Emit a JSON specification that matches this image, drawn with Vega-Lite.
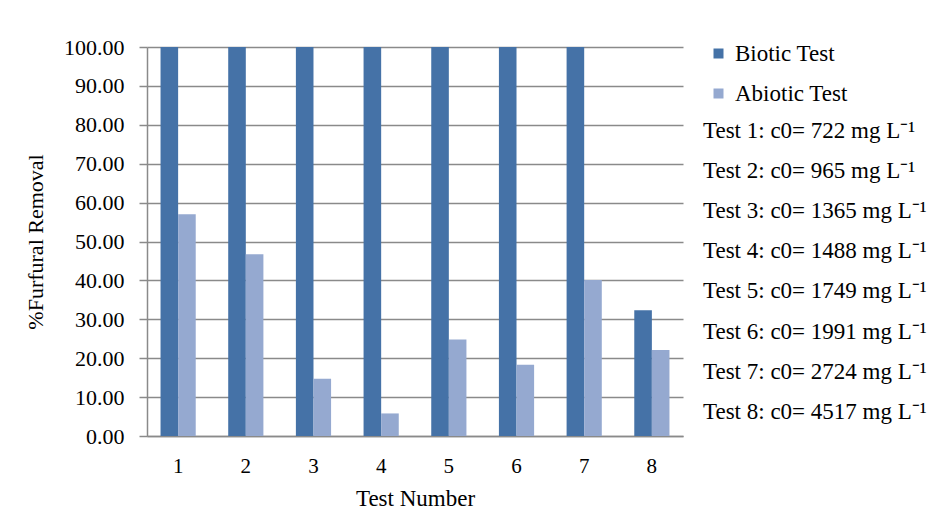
{
  "$schema": "https://vega.github.io/schema/vega-lite/v6.json",
  "autosize": {"type": "none"},
  "width": 536,
  "height": 389,
  "padding": {"left": 147, "top": 47, "right": 256, "bottom": 84},
  "background": "white",
  "config": {
    "font": "Liberation Serif",
    "view": {"stroke": null},
    "axis": {"labelFont": "Liberation Serif", "titleFont": "Liberation Serif", "labelColor": "#000000", "titleColor": "#000000", "titleFontWeight": "normal"},
    "legend": {"labelFont": "Liberation Serif", "labelColor": "#000000"}
  },
  "data": {
    "values": [
      {"test": 1, "type": "Biotic Test", "value": 100, "cond": "Test 1: c0= 722  mg L⁻¹"},
      {"test": 1, "type": "Abiotic Test", "value": 57.0, "cond": "Test 1: c0= 722  mg L⁻¹"},
      {"test": 2, "type": "Biotic Test", "value": 100, "cond": "Test 2: c0= 965  mg L⁻¹"},
      {"test": 2, "type": "Abiotic Test", "value": 46.7, "cond": "Test 2: c0= 965  mg L⁻¹"},
      {"test": 3, "type": "Biotic Test", "value": 100, "cond": "Test 3: c0= 1365 mg L⁻¹"},
      {"test": 3, "type": "Abiotic Test", "value": 14.7, "cond": "Test 3: c0= 1365 mg L⁻¹"},
      {"test": 4, "type": "Biotic Test", "value": 100, "cond": "Test 4: c0= 1488 mg L⁻¹"},
      {"test": 4, "type": "Abiotic Test", "value": 5.8, "cond": "Test 4: c0= 1488 mg L⁻¹"},
      {"test": 5, "type": "Biotic Test", "value": 100, "cond": "Test 5: c0= 1749 mg L⁻¹"},
      {"test": 5, "type": "Abiotic Test", "value": 24.8, "cond": "Test 5: c0= 1749 mg L⁻¹"},
      {"test": 6, "type": "Biotic Test", "value": 100, "cond": "Test 6: c0= 1991 mg L⁻¹"},
      {"test": 6, "type": "Abiotic Test", "value": 18.3, "cond": "Test 6: c0= 1991 mg L⁻¹"},
      {"test": 7, "type": "Biotic Test", "value": 100, "cond": "Test 7: c0= 2724 mg L⁻¹"},
      {"test": 7, "type": "Abiotic Test", "value": 40.1, "cond": "Test 7: c0= 2724 mg L⁻¹"},
      {"test": 8, "type": "Biotic Test", "value": 32.3, "cond": "Test 8: c0= 4517 mg L⁻¹"},
      {"test": 8, "type": "Abiotic Test", "value": 22.1, "cond": "Test 8: c0= 4517 mg L⁻¹"}
    ]
  },
  "encoding": {
    "x": {
      "field": "test", "type": "ordinal", "title": "Test Number",
      "scale": {"paddingInner": 0.48, "paddingOuter": 0.2},
      "axis": {"labelAngle": 0, "labelFontSize": 21, "titleFontSize": 23, "ticks": false, "domainColor": "#8a8a8a", "domainWidth": 1.5, "labelPadding": 19, "titlePadding": 11}
    },
    "y": {
      "field": "value", "type": "quantitative", "title": "%Furfural Removal",
      "scale": {"domain": [0, 100], "nice": false},
      "axis": {"values": [0, 10, 20, 30, 40, 50, 60, 70, 80, 90, 100], "format": ".2f", "labelFontSize": 22, "titleFontSize": 22, "tickSize": 8, "tickColor": "#8a8a8a", "tickWidth": 1.5, "domainColor": "#8a8a8a", "domainWidth": 1.5, "gridColor": "#8a8a8a", "gridWidth": 1.5, "labelPadding": 15, "titlePadding": 16}
    }
  },
  "layer": [
    {
      "mark": {"type": "bar"},
      "encoding": {
        "xOffset": {"field": "type", "type": "nominal", "sort": ["Biotic Test", "Abiotic Test"], "scale": {"domain": ["Biotic Test", "Abiotic Test"]}},
        "color": {
          "field": "type", "type": "nominal",
          "scale": {"domain": ["Biotic Test", "Abiotic Test"], "range": ["#4572a7", "#95a9d0"]},
          "legend": {"title": null, "orient": "none", "legendX": 560, "legendY": -5, "symbolType": "square", "symbolSize": 100, "symbolStrokeWidth": 0, "labelFontSize": 23, "rowPadding": 16, "labelOffset": 5, "padding": 0}
        }
      }
    },
    {
      "mark": {"type": "point", "opacity": 0, "size": 0},
      "encoding": {
        "shape": {
          "field": "cond", "type": "nominal",
          "legend": {"title": null, "orient": "none", "legendX": 533, "legendY": 72, "symbolSize": 0, "symbolOpacity": 0, "symbolStrokeWidth": 0, "labelFontSize": 23, "rowPadding": 16.2, "labelOffset": 0, "labelLimit": 400, "padding": 0}
        }
      }
    }
  ]
}
